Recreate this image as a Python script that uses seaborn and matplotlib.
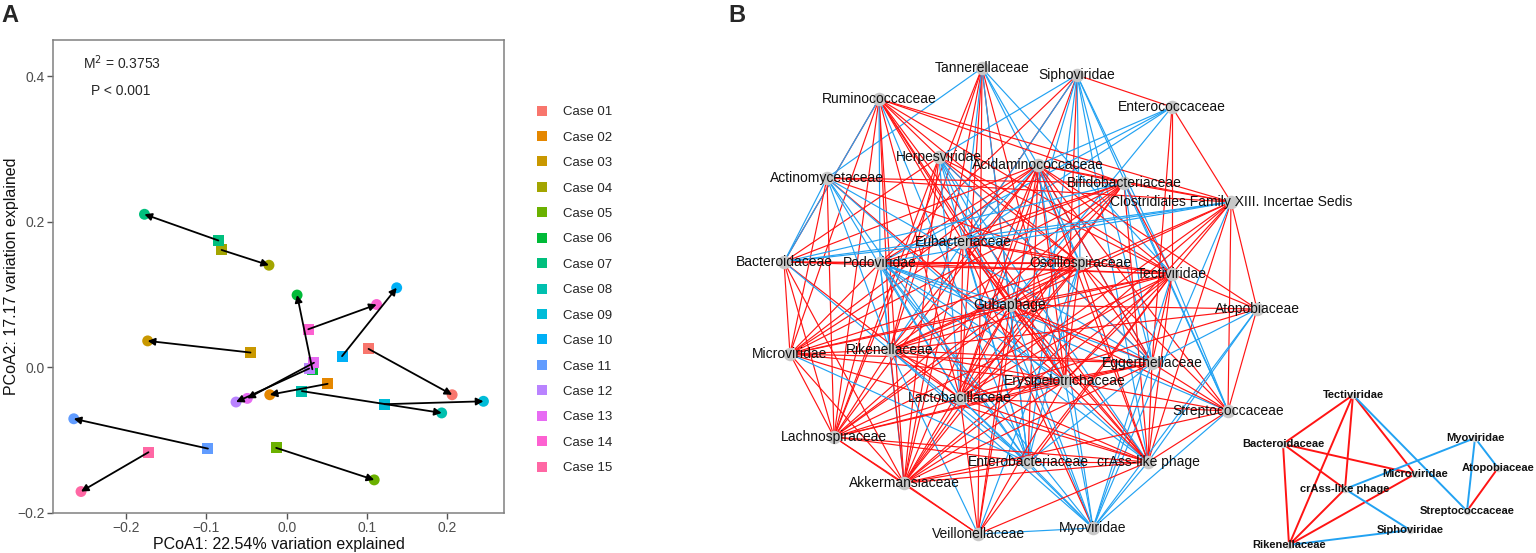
import numpy as np
import pandas as pd
import matplotlib
matplotlib.use("Agg")
import matplotlib.pyplot as plt
from matplotlib.lines import Line2D
from matplotlib.collections import LineCollection
import seaborn as sns

# ---------------- Panel A data (Procrustes PCoA) ----------------
cases = [f"Case {i:02d}" for i in range(1, 16)]
case_colors = ["#F8766D", "#E58700", "#C99800", "#A3A500", "#6BB100", "#00BA38",
               "#00BF7D", "#00C0AF", "#00BCD8", "#00B0F6", "#619CFF", "#B983FF",
               "#E76BF3", "#FD61D1", "#FF67A4"]
square_x = [0.102, 0.051, -0.045, -0.081, -0.013, 0.032, -0.085, 0.019, 0.122, 0.069,
            -0.098, 0.028, 0.034, 0.027, -0.172]
square_y = [0.025, -0.023, 0.020, 0.161, -0.111, -0.003, 0.174, -0.033, -0.051, 0.015,
            -0.112, -0.002, 0.006, 0.052, -0.117]
circle_x = [0.206, -0.021, -0.173, -0.022, 0.109, 0.013, -0.177, 0.193, 0.245, 0.137,
            -0.265, -0.063, -0.049, 0.112, -0.256]
circle_y = [-0.038, -0.038, 0.036, 0.140, -0.155, 0.099, 0.210, -0.063, -0.047, 0.109,
            -0.071, -0.048, -0.043, 0.086, -0.171]
m2_text = "M$^2$ = 0.3753"
p_text = "P < 0.001"
xlabel_a = "PCoA1: 22.54% variation explained"
ylabel_a = "PCoA2: 17.17 variation explained"

# ---------------- Panel B data (co-occurrence network) ----------------
nodes = ["Tannerellaceae", "Siphoviridae", "Ruminococcaceae", "Enterococcaceae",
         "Herpesviridae", "Acidaminococcaceae", "Actinomycetaceae", "Bifidobacteriaceae",
         "Clostridiales Family XIII. Incertae Sedis", "Eubacteriaceae", "Bacteroidaceae",
         "Podoviridae", "Oscillospiraceae", "Tectiviridae", "Atopobiaceae", "Gubaphage",
         "Microviridae", "Rikenellaceae", "Eggerthellaceae", "Erysipelotrichaceae",
         "Lactobacillaceae", "Streptococcaceae", "Lachnospiraceae", "Enterobacteriaceae",
         "crAss-like phage", "Akkermansiaceae", "Veillonellaceae", "Myoviridae"]
# layout coordinates of the network (as drawn)
node_x = [982, 1077, 879, 1172, 939, 1038, 827, 1124, 1231, 963, 784, 880, 1080, 1172,
          1257, 1010, 790, 890, 1152, 1065, 960, 1228, 834, 1028, 1148, 904, 978, 1093]
node_y = [68, 75, 99, 107, 157, 165, 178, 183, 202, 242, 262, 263, 263, 274, 309, 305,
          354, 350, 363, 381, 398, 411, 437, 462, 462, 483, 534, 528]
# positive (red) correlations
red_edges = {
    0: [15, 17, 19, 20, 22, 25, 26],
    1: [3, 9, 11, 19, 20],
    2: [7, 8, 9, 10, 12, 13, 15, 16, 17, 18, 19, 20, 22, 24, 25],
    3: [8, 13, 18],
    4: [10, 12, 13, 17, 22, 25],
    5: [7, 8, 10, 11, 13, 14, 16, 17, 18, 19, 20, 21, 22, 23, 24, 25, 26],
    6: [7, 8, 12, 16, 19, 22],
    7: [8, 9, 11, 13, 15, 16, 17, 20, 22, 24, 25],
    8: [13, 14, 15, 17, 19, 20, 21, 24, 25],
    9: [12, 13, 15, 16, 19, 20, 24, 25, 27],
    10: [11, 12, 13, 16, 20, 22, 25],
    11: [12, 13, 16, 22],
    12: [13, 15, 16, 17, 18, 19, 20, 21, 22, 24, 25],
    13: [14, 15, 16, 17, 18, 19, 20, 22, 23, 24, 25, 26],
    14: [15, 17, 20, 21],
    15: [16, 17, 18, 19, 20, 21, 22, 24, 25, 26],
    16: [17, 18, 19, 22, 24, 25],
    17: [18, 19, 20, 22, 24, 25],
    18: [19, 20, 21, 22, 24, 25],
    19: [20, 21, 22, 24, 25, 26],
    20: [21, 22, 24, 25, 26],
    21: [24, 25],
    22: [23, 24, 25, 26],
    23: [24, 25],
    24: [25, 26],
    25: [26],
}
# negative (blue) correlations
blue_edges = {
    0: [6, 9, 12, 13, 18, 23],
    1: [4, 12, 13, 15, 17, 18, 21, 23, 24],
    2: [10, 11, 23],
    3: [5, 9, 11, 15],
    4: [18, 19, 20, 23, 24, 27],
    5: [9, 12, 27],
    6: [10, 17, 18, 20, 23, 24],
    7: [10, 18, 21],
    8: [9, 10, 11, 27],
    9: [10, 23],
    10: [17],
    11: [15, 17, 18, 19, 20, 21, 23, 24, 25, 27],
    12: [23, 26],
    13: [21, 27],
    14: [18, 24, 27],
    15: [23, 27],
    16: [23],
    17: [23, 26, 27],
    18: [23, 27],
    19: [27],
    20: [23, 27],
    21: [27],
    23: [27],
    24: [27],
    26: [27],
}

# inset sub-network
inset_nodes = ["Tectiviridae", "Bacteroidaceae", "Myoviridae", "Microviridae", "Atopobiaceae",
               "crAss-like phage", "Streptococcaceae", "Siphoviridae", "Rikenellaceae"]
inset_x = [1353, 1283, 1475, 1415, 1498, 1345, 1467, 1410, 1289]
inset_y = [395, 444, 438, 474, 468, 489, 511, 530, 545]
inset_red = [(0, 1), (0, 8), (0, 5), (0, 3), (1, 8), (1, 3), (1, 5), (8, 5), (8, 3), (4, 6)]
inset_blue = [(0, 6), (5, 2), (5, 7), (8, 7), (2, 6), (2, 4)]

RED = "#FF1414"
BLUE = "#22A2F2"

# ---------------- figure ----------------
sns.set_theme(style="ticks")
plt.rcParams["font.family"] = ["Liberation Sans", "DejaVu Sans"]
plt.rcParams["axes.unicode_minus"] = True

W, H = 1536, 553
fig = plt.figure(figsize=(W / 100, H / 100), dpi=100)

# ---- Panel A ----
axA = fig.add_axes([53.3 / W, 1 - 513 / H, (504 - 53.3) / W, (513 - 40) / H])
df = pd.DataFrame({
    "x": circle_x + square_x,
    "y": circle_y + square_y,
    "case": cases + cases,
    "kind": ["circle"] * 15 + ["square"] * 15,
})
sns.scatterplot(data=df, x="x", y="y", hue="case", style="kind",
                markers={"circle": "o", "square": "s"},
                palette=dict(zip(cases, case_colors)), s=62, linewidth=0,
                legend=False, ax=axA, zorder=2)
for sx, sy, cx, cy in zip(square_x, square_y, circle_x, circle_y):
    axA.annotate("", xy=(cx, cy), xytext=(sx, sy),
                 arrowprops=dict(arrowstyle="-|>,head_length=0.35,head_width=0.18",
                                 color="black", lw=1.3, shrinkA=0, shrinkB=0),
                 zorder=3)
axA.set_xlim(-0.2905, 0.2706)
axA.set_ylim(-0.2005, 0.4495)
axA.set_xticks([-0.2, -0.1, 0.0, 0.1, 0.2])
axA.set_xticklabels(["\u22120.2", "\u22120.1", "0.0", "0.1", "0.2"])
axA.set_yticks([-0.2, 0.0, 0.2, 0.4])
axA.set_yticklabels(["\u22120.2", "0.0", "0.2", "0.4"])
axA.tick_params(direction="out", length=4, width=1, color="#555555",
                labelsize=10, labelcolor="#4D4D4D", pad=2)
for sp in axA.spines.values():
    sp.set_visible(True)
    sp.set_color("#808080")
    sp.set_linewidth(1.1)
axA.set_xlabel(xlabel_a, fontsize=11.5, labelpad=1, color="#111111")
axA.set_ylabel(ylabel_a, fontsize=11.5, color="#111111")
axA.yaxis.set_label_coords((19 - 53.3) / (504 - 53.3), 0.5)
axA.text(0.066, 0.951, m2_text, transform=axA.transAxes, ha="left", va="center", fontsize=10)
axA.text(0.084, 0.892, p_text, transform=axA.transAxes, ha="left", va="center", fontsize=10)

handles = [Line2D([], [], marker="s", linestyle="", markersize=7.5,
                  markerfacecolor=c, markeredgewidth=0) for c in case_colors]
fig.legend(handles, cases, loc="upper left", bbox_to_anchor=(535 / W, 1 - 106 / H),
           frameon=False, fontsize=9.5, handlelength=1.0, handletextpad=1.1,
           labelspacing=1.0, borderpad=0, borderaxespad=0)

fig.text(1 / W, 1 - 16 / H, "A", fontsize=17, fontweight="bold", ha="left", va="center")
fig.text(728 / W, 1 - 16 / H, "B", fontsize=17, fontweight="bold", ha="left", va="center")

# ---- Panel B ----
axB = fig.add_axes([700 / W, 0, (W - 700) / W, 1])
axB.set_xlim(700, W)
axB.set_ylim(H, 0)
axB.axis("off")

segs, cols = [], []
for i in range(len(nodes)):
    for j in red_edges.get(i, []):
        segs.append([(node_x[i], node_y[i]), (node_x[j], node_y[j])])
        cols.append(RED)
    for j in blue_edges.get(i, []):
        segs.append([(node_x[i], node_y[i]), (node_x[j], node_y[j])])
        cols.append(BLUE)
axB.add_collection(LineCollection(segs, colors=cols, linewidths=0.85, zorder=1))

node_df = pd.DataFrame({"x": node_x, "y": node_y, "name": nodes})
sns.scatterplot(data=node_df, x="x", y="y", color="#C8C8C8", s=95, linewidth=0,
                ax=axB, zorder=2, legend=False)
for x, y, n in zip(node_x, node_y, nodes):
    axB.text(x, y, n, ha="center", va="center", fontsize=10, color="#111111", zorder=4)

isegs, icols = [], []
for a, b in inset_red:
    isegs.append([(inset_x[a], inset_y[a]), (inset_x[b], inset_y[b])])
    icols.append(RED)
for a, b in inset_blue:
    isegs.append([(inset_x[a], inset_y[a]), (inset_x[b], inset_y[b])])
    icols.append(BLUE)
axB.add_collection(LineCollection(isegs, colors=icols, linewidths=1.4, zorder=1))
inset_df = pd.DataFrame({"x": inset_x, "y": inset_y})
sns.scatterplot(data=inset_df, x="x", y="y", color="#D4D4D4", s=30, linewidth=0,
                ax=axB, zorder=2, legend=False)
for x, y, n in zip(inset_x, inset_y, inset_nodes):
    axB.text(x, y, n, ha="center", va="center", fontsize=8, fontweight="bold",
             color="#111111", zorder=4)
axB.set_xlim(700, W)
axB.set_ylim(H, 0)
axB.set_xlabel("")
axB.set_ylabel("")

fig.savefig("out.png", dpi=100)
